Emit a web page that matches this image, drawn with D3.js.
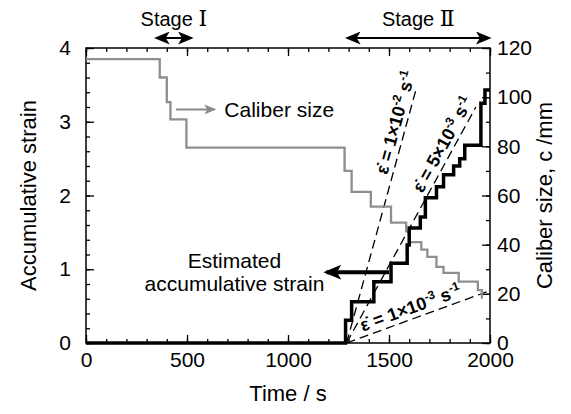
<!DOCTYPE html>
<html>
<head>
<meta charset="utf-8">
<script src="https://cdn.jsdelivr.net/npm/d3@7"></script>
<style>
    body { margin: 0; background: #fff; }
    text { font-family: "Liberation Sans", Arial, sans-serif; fill: #000; }
</style>
</head>
<body>
<svg id="chart"></svg>
<script>
// axis ticks
const timeTicks = [0, 500, 1000, 1500, 2000];
const strainTicks = [0, 1, 2, 3, 4];
const caliberTicks = [0, 20, 40, 60, 80, 100, 120];

// estimated accumulative strain (step after each pass)
const strainTime = [0, 1285, 1315, 1425, 1510, 1590, 1600, 1655, 1680, 1735, 1770, 1820, 1850, 1875, 1955, 1975, 2000];
const strainValue = [0, 0.31, 0.56, 0.83, 1.08, 1.33, 1.56, 1.71, 1.97, 2.12, 2.28, 2.4, 2.5, 2.68, 3.25, 3.43, 3.43];

// caliber size c / mm
const caliberTime = [0, 365, 400, 418, 497, 1280, 1315, 1410, 1510, 1585, 1600, 1660, 1690, 1735, 1770, 1845, 1940, 1960, 1965];
const caliberValue = [115.5, 108, 98, 91, 79.5, 70, 61.5, 55.5, 49, 45.5, 41, 38, 35, 31, 28.5, 25, 21.5, 18.5, 18.5];

// constant strain-rate guide lines
const rateStart = 1290;
const rates = [0.01, 0.005, 0.001];
const rateEnd = [1633, 1930, 2000];
const rateMantissa = ['1', '5', '1'];
const rateExponent = ['-2', '-3', '-3'];
const rateLabelTime = [1585, 1814, 1625];

// stages
const stageNumerals = ['Ⅰ', 'Ⅱ'];
const stageFrom = [345, 1290];
const stageTo = [525, 2000];

const config = {
    containerWidth: 571,
    containerHeight: 414,
    margin: { top: 48, right: 81, bottom: 71, left: 86 }
};
const width = config.containerWidth - config.margin.left - config.margin.right;
const height = config.containerHeight - config.margin.top - config.margin.bottom;

const svg = d3.select('#chart')
    .attr('width', config.containerWidth)
    .attr('height', config.containerHeight);

const defs = svg.append('defs');
function addMarker(id, color, size) {
    defs.append('marker')
        .attr('id', id)
        .attr('viewBox', '0 0 12 10')
        .attr('refX', 10)
        .attr('refY', 5)
        .attr('markerUnits', 'userSpaceOnUse')
        .attr('markerWidth', size * 1.2)
        .attr('markerHeight', size)
        .attr('orient', 'auto-start-reverse')
        .append('path')
        .attr('d', 'M0,0 L12,5 L0,10 L3,5 Z')
        .attr('fill', color);
}
addMarker('head-black', '#000', 13);
addMarker('head-gray', '#8a8a8a', 10);
addMarker('head-big', '#000', 15);

const chart = svg.append('g')
    .attr('transform', `translate(${config.margin.left},${config.margin.top})`);

const xScale = d3.scaleLinear().domain([0, 2000]).range([0, width]);
const yStrain = d3.scaleLinear().domain([0, 4]).range([height, 0]);
const yCaliber = d3.scaleLinear().domain([0, 120]).range([height, 0]);

// Axes: ticks point inwards, minor ticks drawn separately
function drawAxis(axisFn, scale, major, minor, transform, padding, labels) {
    const gMinor = chart.append('g').attr('transform', transform)
        .call(axisFn(scale).tickValues(minor).tickSize(-4).tickFormat(''));
    const gMajor = chart.append('g').attr('transform', transform)
        .call(axisFn(scale).tickValues(major).tickSize(-8).tickPadding(padding)
            .tickFormat(labels ? d => d : ''));
    [gMinor, gMajor].forEach(g => {
        g.select('.domain').remove();
        g.selectAll('line').attr('stroke', '#000').attr('stroke-width', 1.3);
        g.selectAll('text').attr('font-size', 21).attr('font-family', '"Liberation Sans", Arial, sans-serif');
    });
}
drawAxis(d3.axisBottom, xScale, timeTicks, d3.range(0, 2001, 100), `translate(0,${height})`, 9, true);
drawAxis(d3.axisTop, xScale, timeTicks, d3.range(0, 2001, 100), 'translate(0,0)', 8, false);
drawAxis(d3.axisLeft, yStrain, strainTicks, d3.range(0, 4.01, 0.2), 'translate(0,0)', 15, true);
drawAxis(d3.axisRight, yCaliber, caliberTicks, d3.range(0, 121, 10), `translate(${width},0)`, 7, true);

chart.append('rect')
    .attr('width', width)
    .attr('height', height)
    .attr('fill', 'none')
    .attr('stroke', '#000')
    .attr('stroke-width', 1.5);

// Axis titles
svg.append('text')
    .attr('text-anchor', 'middle')
    .attr('transform', `translate(36,${config.margin.top + height / 2}) rotate(-90)`)
    .attr('font-size', 22)
    .text('Accumulative strain');

svg.append('text')
    .attr('text-anchor', 'middle')
    .attr('transform', `translate(552,${config.margin.top + height / 2}) rotate(-90)`)
    .attr('font-size', 22)
    .text('Caliber size, c /mm');

svg.append('text')
    .attr('text-anchor', 'middle')
    .attr('x', config.margin.left + width / 2)
    .attr('y', 401)
    .attr('font-size', 22)
    .text('Time / s');

// Strain-rate dashed lines
const rateLines = chart.append('g');
rates.forEach((r, i) => {
    rateLines.append('line')
        .attr('x1', xScale(rateStart))
        .attr('y1', yStrain(0))
        .attr('x2', xScale(rateEnd[i]))
        .attr('y2', yStrain(r * (rateEnd[i] - rateStart)))
        .attr('stroke', '#000')
        .attr('stroke-width', 1.3)
        .attr('stroke-dasharray', '9,5');

    const t = rateLabelTime[i];
    const px = xScale(t);
    const py = yStrain(r * (t - rateStart));
    const angle = Math.atan2(yStrain(r * 100) - yStrain(0), xScale(rateStart + 100) - xScale(rateStart)) * 180 / Math.PI;

    const label = rateLines.append('text')
        .attr('transform', `translate(${px},${py}) rotate(${angle})`)
        .attr('text-anchor', 'middle')
        .attr('dy', -5)
        .attr('font-size', 18)
        .attr('font-weight', 'bold');
    label.append('tspan').text('ε\u0307 = ' + rateMantissa[i] + '×10');
    label.append('tspan').attr('font-size', 12).attr('dy', -7).text(rateExponent[i]);
    label.append('tspan').attr('dy', 7).text(' s');
    label.append('tspan').attr('font-size', 12).attr('dy', -7).text('-1');
});

// Caliber size (gray step line)
const caliberData = caliberTime.map((t, i) => ({ t: t, v: caliberValue[i] }));
chart.append('path')
    .datum(caliberData)
    .attr('fill', 'none')
    .attr('stroke', '#8e8e8e')
    .attr('stroke-width', 2.3)
    .attr('d', d3.line().x(d => xScale(d.t)).y(d => yCaliber(d.v)).curve(d3.curveStepAfter));

// Accumulative strain (black step line)
const strainData = strainTime.map((t, i) => ({ t: t, v: strainValue[i] }));
chart.append('path')
    .datum(strainData)
    .attr('fill', 'none')
    .attr('stroke', '#000')
    .attr('stroke-width', 3.5)
    .attr('d', d3.line().x(d => xScale(d.t)).y(d => yStrain(d.v)).curve(d3.curveStepAfter));

// Annotations
chart.append('line')
    .attr('x1', xScale(445)).attr('x2', xScale(635))
    .attr('y1', yCaliber(95)).attr('y2', yCaliber(95))
    .attr('stroke', '#8a8a8a')
    .attr('stroke-width', 2)
    .attr('marker-end', 'url(#head-gray)');

chart.append('text')
    .attr('x', xScale(685))
    .attr('y', yCaliber(95))
    .attr('dy', '0.35em')
    .attr('font-size', 21)
    .text('Caliber size');

chart.append('line')
    .attr('x1', xScale(1500)).attr('x2', xScale(1190))
    .attr('y1', yStrain(0.96)).attr('y2', yStrain(0.96))
    .attr('stroke', '#000')
    .attr('stroke-width', 4)
    .attr('marker-end', 'url(#head-big)');

const est = chart.append('text')
    .attr('text-anchor', 'middle')
    .attr('font-size', 21);
est.append('tspan').attr('x', xScale(735)).attr('y', yStrain(1.02)).text('Estimated');
est.append('tspan').attr('x', xScale(735)).attr('y', yStrain(0.7)).text('accumulative strain');

// Stage markers above the plot
stageNumerals.forEach((n, i) => {
    const x1 = config.margin.left + xScale(stageFrom[i]);
    const x2 = config.margin.left + xScale(stageTo[i]);
    svg.append('line')
        .attr('x1', x1 + 1).attr('x2', x2 - 1)
        .attr('y1', 38).attr('y2', 38)
        .attr('stroke', '#000')
        .attr('stroke-width', 2.2)
        .attr('marker-start', 'url(#head-black)')
        .attr('marker-end', 'url(#head-black)');

    const st = svg.append('text')
        .attr('x', (x1 + x2) / 2)
        .attr('y', 26)
        .attr('text-anchor', 'middle')
        .attr('font-size', 20);
    st.append('tspan').text('Stage ');
    st.append('tspan').attr('font-family', '"Liberation Serif", "DejaVu Serif", serif').attr('font-size', 22).text(n);
});
</script>
</body>
</html>
